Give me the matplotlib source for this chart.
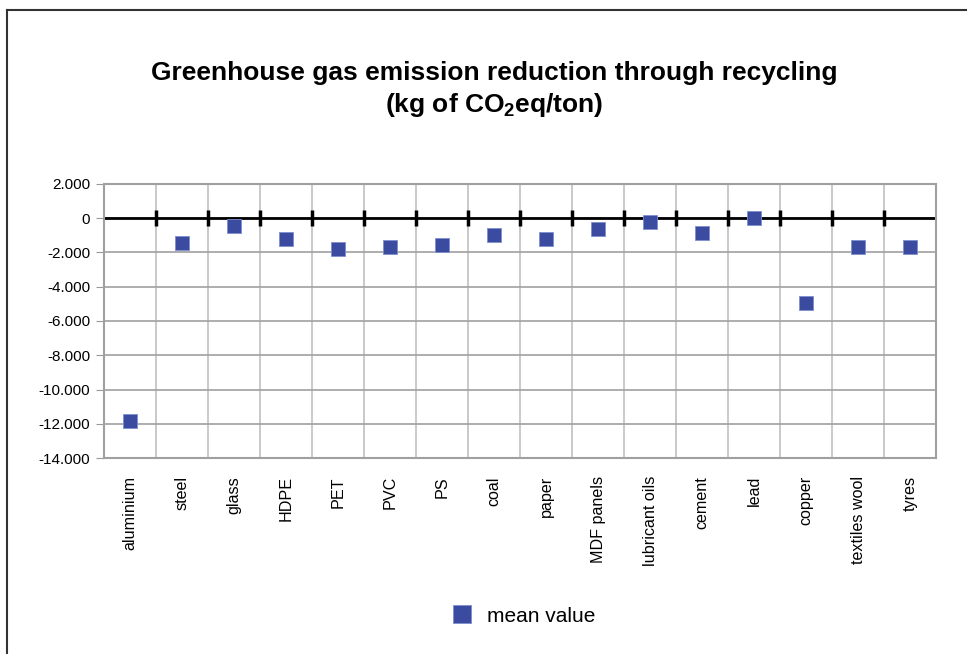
import matplotlib
matplotlib.use("Agg")
import matplotlib.pyplot as plt
from matplotlib.lines import Line2D

plt.rcParams['font.family'] = ['Liberation Sans', 'DejaVu Sans']
plt.rcParams['mathtext.fontset'] = 'custom'
plt.rcParams['mathtext.rm'] = 'Liberation Sans:bold'
plt.rcParams['mathtext.it'] = 'Liberation Sans:bold'
plt.rcParams['mathtext.bf'] = 'Liberation Sans:bold'

# data
materials = ["aluminium", "steel", "glass", "HDPE", "PET", "PVC", "PS", "coal",
             "paper", "MDF panels", "lubricant oils", "cement", "lead", "copper",
             "textiles wool", "tyres"]
mean_value = [-11850, -1430, -440, -1240, -1770, -1700, -1550, -990,
              -1215, -650, -205, -880, 40, -4920, -1660, -1660]
y_ticks = [2000, 0, -2000, -4000, -6000, -8000, -10000, -12000, -14000]

blue = "#3a4ba0"
x = list(range(len(materials)))
bounds = [i + 0.5 for i in x[:-1]]

fig = plt.figure(figsize=(9.67, 6.54), dpi=100)
ax = fig.add_axes([104/967, (654-458)/654, (936-104)/967, (458-184)/654])

# outer frame (top and left edges visible)
fig.add_artist(Line2D([7/967, 7/967], [0, 1 - 10/654], color="#333333", lw=1.5,
                      transform=fig.transFigure))
fig.add_artist(Line2D([7/967, 1], [1 - 10/654, 1 - 10/654], color="#333333", lw=1.5,
                      transform=fig.transFigure))

ax.set_xlim(-0.5, len(materials) - 0.5)
ax.set_ylim(-14000, 2000)
ax.set_yticks(y_ticks)
ax.set_yticklabels([f"{v:,}".replace(",", ".") for v in y_ticks], fontsize=11)
ax.set_xticks(x)
ax.set_xticklabels(materials, rotation=90, fontsize=11.6)
ax.set_xticks(bounds, minor=True)
ax.tick_params(axis='x', which='both', length=0, pad=13)
ax.tick_params(axis='y', length=6, color="#999999", pad=4)

ax.grid(axis='y', color="#a0a0a0", lw=1.2)
ax.grid(axis='x', which='minor', color="#c0c0c0", lw=1.2)
ax.set_axisbelow(True)
for s in ax.spines.values():
    s.set_color("#a0a0a0")
    s.set_linewidth(1.5)

ax.axhline(0, color="black", lw=2)
ax.plot(bounds, [0] * len(bounds), ls="none", marker="|", ms=11, mew=2.5, color="black")

ax.plot(x, mean_value, ls="none", marker="s", ms=9.8, color=blue,
        markeredgecolor="#7f8fd0", markeredgewidth=0.6, label="mean value", zorder=5)

fig.text(494/967, 1 - 73/654, "Greenhouse gas emission reduction through recycling",
         ha="center", va="center", fontsize=19, fontweight="bold")
fig.text(494/967, 1 - 105/654, r"(kg of CO$_{2}$eq/ton)",
         ha="center", va="center", fontsize=19, fontweight="bold")

fig.legend(loc="center", bbox_to_anchor=(522/967, 1 - 616/654), frameon=False,
           fontsize=15, handletextpad=0.6, handlelength=1.2, markerscale=1.3)

fig.savefig("out.png", dpi=100)
